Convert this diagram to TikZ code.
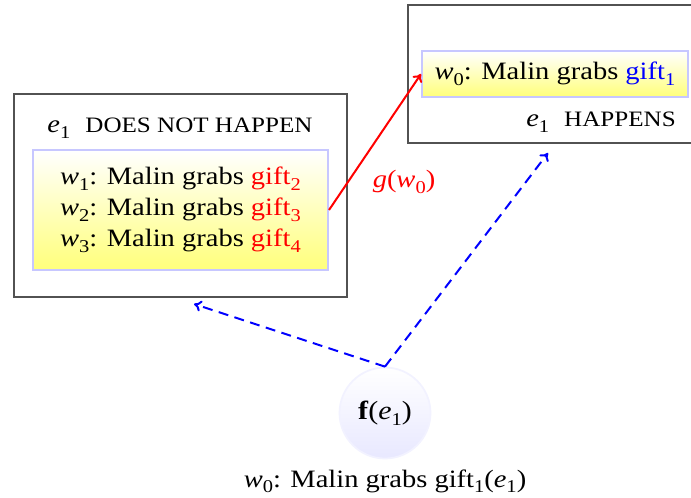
\documentclass[tikz,border=0pt]{standalone}
\usepackage{fontspec}
\setmainfont{Liberation Serif}[FakeStretch=1.14]
\usetikzlibrary{arrows.meta}
\newcommand\sbs[1]{\raisebox{-0.22em}{\fontsize{7.2}{7.2}\selectfont #1}}
\newcommand\mvar[2]{\textit{#1}\sbs{#2}}
\begin{document}
\begin{tikzpicture}[x=0.4pt,y=-0.4pt,
  outerbox/.style={draw=black!68, line width=1.1pt, inner sep=0pt},
  innerbox/.style={draw=blue!22, line width=0.8pt, top color=white, bottom color=yellow!52, inner sep=0pt, align=center, font=\fontsize{10}{12.4}\selectfont},
  titletext/.style={anchor=base, inner sep=0pt, font=\fontsize{10}{12}\selectfont},
  mapline/.style={red, line width=0.8pt, -{To[length=3pt,width=4.5pt]}},
  eventline/.style={blue, line width=0.8pt, dash pattern=on 4pt off 2.6pt, -{To[length=3pt,width=4.5pt]}},
  eventnode/.style={circle, draw=blue!5, line width=0.7pt, top color=white, bottom color=blue!9, minimum size=36.4pt, inner sep=0pt, font=\fontsize{10.5}{12}\selectfont}
]
\useasboundingbox (0,0) rectangle (691,498);
\clip (0,0) rectangle (691,498);
% outer boxes
\node[outerbox, minimum width=133.2pt, minimum height=81.2pt] (L) at (180.5,195.5) {};
\node[outerbox, minimum width=124.8pt, minimum height=55.2pt] (R) at (564,74) {};
% titles
\node[titletext] (Lt) at (180,133) {\mvar{e}{1}\hspace{6pt}{\fontsize{8.8}{10}\selectfont DOES NOT HAPPEN}};
\node[titletext] (Rt) at (601,127) {\mvar{e}{1}\hspace{6pt}{\fontsize{8.8}{10}\selectfont HAPPENS}};
% inner boxes
\node[innerbox, minimum width=118pt, minimum height=48pt] (LI) at (180.5,210)
  {\mvar{w}{1}: Malin grabs \textcolor{red}{gift\sbs{2}}\\
   \mvar{w}{2}: Malin grabs \textcolor{red}{gift\sbs{3}}\\
   \mvar{w}{3}: Malin grabs \textcolor{red}{gift\sbs{4}}};
\node[innerbox, minimum width=106.4pt, minimum height=18.4pt] (TI) at (555,74)
  {\mvar{w}{0}: Malin grabs \textcolor{blue}{gift\sbs{1}}};
% map
\draw[mapline] (LI.east) -- (TI.west);
\node[red, font=\fontsize{10}{12}\selectfont] (g) at (404,182) {\textit{g}(\mvar{w}{0})};
% event node
\node[eventnode] (F) at (385,413) {\textbf{f}(\mvar{e}{1})};
\node[titletext] (Fl) at (385,487) {\mvar{w}{0}: Malin grabs gift\sbs{1}(\mvar{e}{1})};
\coordinate (tipR) at (548,153);
\coordinate (tipL) at (194,304);
\draw[eventline] (F.north) -- (tipR);
\draw[eventline] (F.north) -- (tipL);
\end{tikzpicture}
\end{document}
